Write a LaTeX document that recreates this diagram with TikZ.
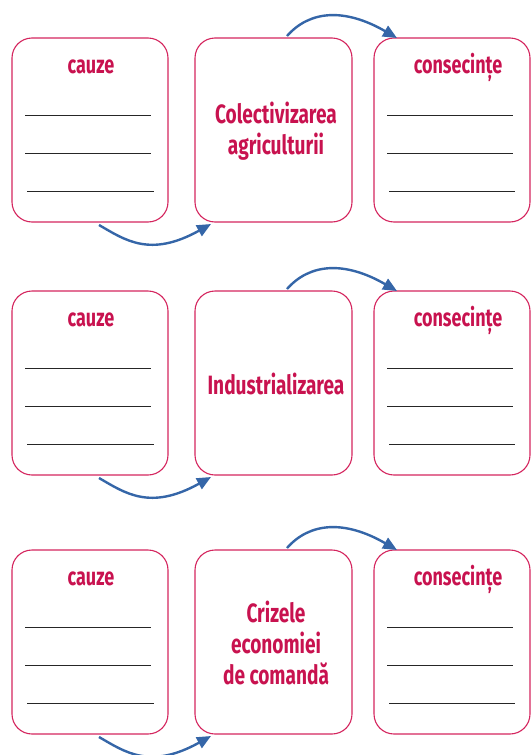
\documentclass[tikz,border=0pt]{standalone}
\usepackage{fontspec}
\setmainfont{Fira Sans}[FakeStretch=0.72]
\usetikzlibrary{arrows.meta}
\definecolor{crim}{HTML}{C8124F}
\definecolor{framec}{HTML}{D4255E}
\definecolor{arrc}{HTML}{3566A8}
\begin{document}
\begin{tikzpicture}[x=1pt,y=-1pt,
  box/.style={draw=framec, line width=1.1pt, rounded corners=20pt,
    minimum width=156pt, minimum height=184pt, inner sep=0pt},
  head/.style={text=crim, font=\fontsize{25}{29}\selectfont\bfseries, inner sep=0pt},
  title/.style={text=crim, font=\fontsize{26.5}{31}\selectfont\bfseries, align=center, inner sep=0pt},
  rule/.style={draw=black!85, line width=0.9pt},
  flow/.style={draw=arrc, line width=2.4pt, -{Triangle[length=14pt,width=12pt]}}]
\useasboundingbox (0,0) rectangle (531,755);
\foreach \r/\off/\txt in {1/0/{Colectivizarea\\agriculturii},2/253/{Industrializarea},3/512/{Crizele\\economiei\\de comandă}}{
  \node[box] (c\r) at (90,130+\off) {};
  \node[box, minimum width=157pt] (m\r) at (273.5,130+\off) {};
  \node[box] (k\r) at (452,130+\off) {};
  \node[head] (hc\r) at (91,67+\off) {cauze};
  \node[head] (hk\r) at (458,67+\off) {consecințe};
  \node[title] (t\r) at (276,131+\off) {\txt};
  \draw[rule] (25,115+\off) -- (151,115+\off);
  \draw[rule] (25,153+\off) -- (151,153+\off);
  \draw[rule] (27,191+\off) -- (154,191+\off);
  \draw[rule] (387,115+\off) -- (513,115+\off);
  \draw[rule] (387,153+\off) -- (513,153+\off);
  \draw[rule] (389,191+\off) -- (515,191+\off);
  \coordinate (ts\r) at (287,36+\off);
  \coordinate (te\r) at (397,38+\off);
  \coordinate (bs\r) at (99,225+\off);
  \coordinate (be\r) at (211,224+\off);
  \draw[flow] (ts\r) .. controls (310,10+\off) and (345,8+\off) .. (te\r);
  \draw[flow] (bs\r) .. controls (125,240+\off) and (150,258+\off) .. (be\r);
}
\end{tikzpicture}
\end{document}
